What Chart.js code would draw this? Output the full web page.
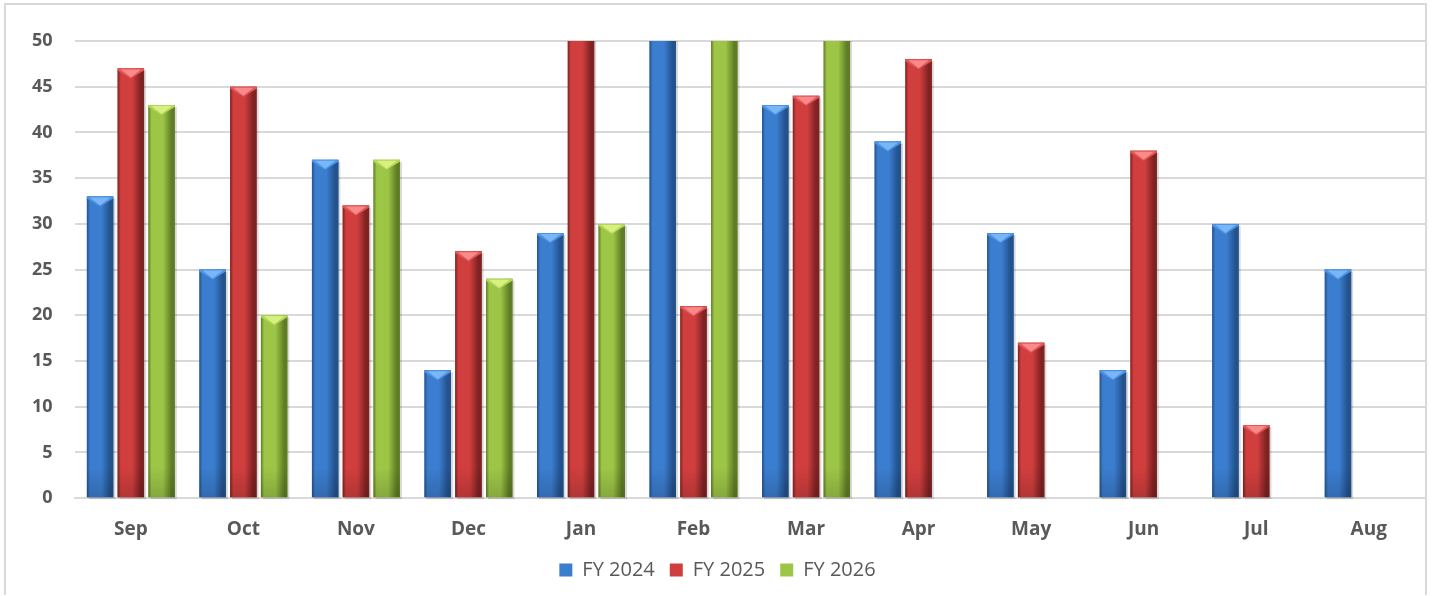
<!DOCTYPE html>
<html>
<head>
<meta charset="utf-8">
<script src="https://cdn.jsdelivr.net/npm/chart.js@4"></script>
<style>
  html, body { margin: 0; padding: 0; background: #fff; }
  #frame {
    position: absolute; left: 4px; top: 3px;
    width: 1423px; height: 592px;
    border: 2px solid #d9d9d9; border-bottom: none;
    box-sizing: border-box;
  }
  #wrap { position: absolute; left: 0; top: 0; width: 1435px; height: 596px; }
</style>
</head>
<body>
<div id="frame"></div>
<div id="wrap"><canvas id="barChart"></canvas></div>
<script>
// chart data
const months = ['Sep', 'Oct', 'Nov', 'Dec', 'Jan', 'Feb', 'Mar', 'Apr', 'May', 'Jun', 'Jul', 'Aug'];
const fy2024 = [33, 25, 37, 14, 29, 55, 43, 39, 29, 14, 30, 25];
const fy2025 = [47, 45, 32, 27, 55, 21, 44, 48, 17, 38, 8, null];
const fy2026 = [43, 20, 37, 24, 30, 55, 55, null, null, null, null, null];
const yTicks = { min: 0, max: 50, step: 5 };

// bevel shades per series: dark edge, body, highlight, cap sides
const shades = [
  { dark: '#23528c', body: '#3b7dcf', light: '#79b6f6', cap: '#4e94e4' },
  { dark: '#7e2222', body: '#d13e3e', light: '#f88a8a', cap: '#e25656' },
  { dark: '#5f7d26', body: '#9dc647', light: '#d8f080', cap: '#b2d65a' }
];

const bevelPlugin = {
  id: 'bevel',
  afterDatasetsDraw(chart) {
    const ctx = chart.ctx;
    const area = chart.chartArea;
    ctx.save();
    ctx.beginPath();
    ctx.rect(area.left, area.top, area.right - area.left, area.bottom - area.top + 2);
    ctx.clip();

    const bars = [];
    chart.data.datasets.forEach((ds, i) => {
      chart.getDatasetMeta(i).data.forEach((el, j) => {
        if (ds.data[j] == null) return;
        const p = el.getProps(['x', 'y', 'base', 'width'], true);
        bars.push({ p, s: shades[i] });
      });
    });

    // soft shadow to the right
    bars.forEach(({ p }) => {
      const l = p.x - p.width / 2;
      ctx.fillStyle = 'rgba(0,0,0,0.15)';
      ctx.fillRect(l + 2, p.y + 2, p.width, p.base - p.y);
    });

    bars.forEach(({ p, s }) => {
      const l = p.x - p.width / 2, r = p.x + p.width / 2, w = p.width;
      const h = p.base - p.y;
      const g = ctx.createLinearGradient(l, 0, r, 0);
      g.addColorStop(0, s.dark);
      g.addColorStop(0.12, s.body);
      g.addColorStop(0.55, s.body);
      g.addColorStop(0.88, s.dark);
      g.addColorStop(1, s.dark);
      ctx.fillStyle = g;
      ctx.fillRect(l, p.y, w, h);

      // darker base
      const gb = ctx.createLinearGradient(0, p.base - 30, 0, p.base);
      gb.addColorStop(0, 'rgba(0,0,0,0)');
      gb.addColorStop(1, 'rgba(0,0,0,0.15)');
      ctx.fillStyle = gb;
      ctx.fillRect(l, Math.max(p.y, p.base - 30), w, Math.min(30, h));

      // top cap: side wedges and a light chevron pointing down
      if (p.y >= area.top - 0.5) {
        const ch = Math.min(10, h);
        ctx.beginPath();
        ctx.moveTo(l, p.y);
        ctx.lineTo(r, p.y);
        ctx.lineTo(r, p.y + 2);
        ctx.lineTo(p.x, p.y + ch);
        ctx.lineTo(l, p.y + 2);
        ctx.closePath();
        ctx.fillStyle = s.cap;
        ctx.fill();
        ctx.beginPath();
        ctx.moveTo(l + 3, p.y + 1);
        ctx.lineTo(r - 3, p.y + 1);
        ctx.lineTo(p.x, p.y + ch - 1);
        ctx.closePath();
        ctx.fillStyle = s.light;
        ctx.fill();
      }
    });
    ctx.restore();
  }
};

const ctx = document.getElementById('barChart').getContext('2d');

new Chart(ctx, {
  type: 'bar',
  data: {
    labels: months,
    datasets: [
      { label: 'FY 2024', data: fy2024, backgroundColor: shades[0].body },
      { label: 'FY 2025', data: fy2025, backgroundColor: shades[1].body },
      { label: 'FY 2026', data: fy2026, backgroundColor: shades[2].body }
    ]
  },
  options: {
    responsive: true,
    maintainAspectRatio: false,
    animation: false,
    categoryPercentage: 0.82,
    barPercentage: 0.86,
    layout: { padding: { left: 10, right: 10, top: 41, bottom: 6 } },
    plugins: {
      legend: {
        position: 'bottom',
        labels: {
          boxWidth: 13,
          boxHeight: 13,
          padding: 15,
          color: '#595959',
          font: { family: 'Open Sans', size: 20 }
        }
      },
      tooltip: { enabled: false }
    },
    scales: {
      x: {
        grid: { display: false, drawTicks: false },
        border: { color: '#d9d9d9', width: 2 },
        ticks: { color: '#595959', padding: 20, font: { family: 'Open Sans', size: 19, weight: 'bold' } },
        afterFit(scale) { scale.height -= 16; }
      },
      y: {
        min: yTicks.min,
        max: yTicks.max,
        grid: { color: '#d9d9d9', lineWidth: 2, drawTicks: false },
        border: { display: false },
        ticks: {
          stepSize: yTicks.step,
          color: '#595959',
          padding: 22,
          font: { family: 'Open Sans', size: 18, weight: 'bold' }
        }
      }
    }
  },
  plugins: [bevelPlugin]
});
</script>
</body>
</html>
